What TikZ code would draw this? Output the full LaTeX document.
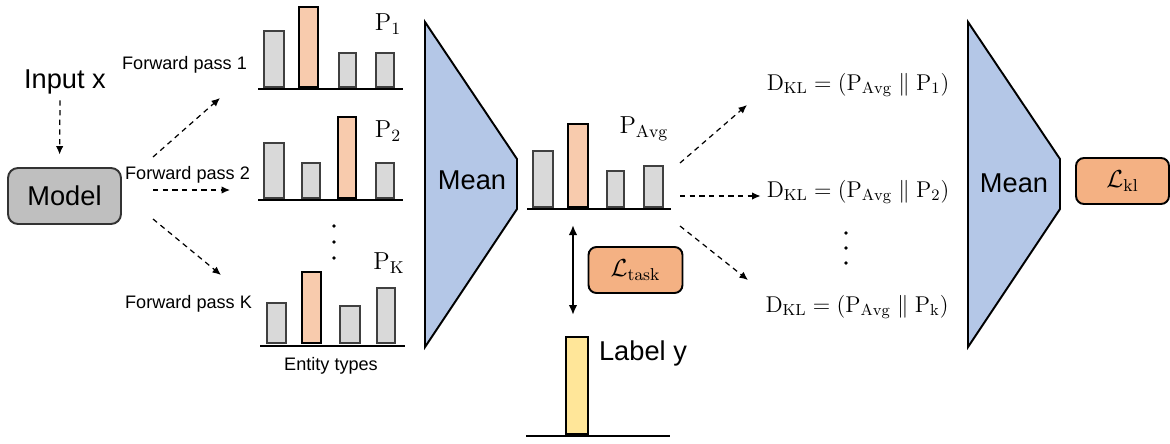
\RequirePackage{fix-cm}
\documentclass[tikz,border=0pt]{standalone}
\usepackage[no-math]{fontspec}
\setmainfont{Liberation Sans}
\usetikzlibrary{positioning,arrows.meta}

\definecolor{barGray}{HTML}{D9D9D9}
\definecolor{barOrange}{HTML}{F8CBAD}
\definecolor{lossOrange}{HTML}{F4B183}
\definecolor{meanBlue}{HTML}{B4C7E7}
\definecolor{modelGray}{HTML}{BFBFBF}
\definecolor{labelYellow}{HTML}{FFE699}

\tikzset{
  gbar/.style={draw=black!75,line width=0.8pt,fill=barGray},
  obar/.style={draw=black,line width=1.3pt,fill=barOrange},
  axisline/.style={line width=1.1pt},
  dasharrow/.style={-{Latex[length=1.7mm,width=1.5mm]},dash pattern=on 3pt off 2.5pt,line width=0.7pt},
  meanshape/.style={draw=black,line width=1.1pt,fill=meanBlue},
  bigtext/.style={font=\fontsize{15.5}{18}\selectfont},
  smalltext/.style={font=\fontsize{10.3}{12}\selectfont},
  plabel/.style={font=\fontsize{14}{16}\selectfont},
  klabel/.style={font=\fontsize{13}{15}\selectfont},
  lossbox/.style={draw=black,line width=1.1pt,rounded corners=0.16cm,fill=lossOrange,
    minimum width=1.88cm,minimum height=0.92cm,font=\fontsize{14}{16}\selectfont},
}

\begin{document}
\begin{tikzpicture}[x=0.02cm,y=-0.02cm]
  \useasboundingbox (0,0) rectangle (1170,443);

  % input and model
  \node[bigtext] (input) at (65,82) {Input x};
  \node[draw=black!80,line width=1.1pt,fill=modelGray,rounded corners=0.2cm,
    minimum width=2.26cm,minimum height=1.12cm,bigtext] (model) at (64.5,196) {Model};
  \draw[dasharrow,shorten >=0.25cm] ([xshift=-0.1cm]input.south) -- ([xshift=-0.1cm]model.north);

  % forward passes
  \coordinate (fp1s) at (153,157);  \coordinate (fp1e) at (220,98);
  \coordinate (fp2s) at (153,190);  \coordinate (fp2e) at (230,190);
  \coordinate (fpks) at (153,219);  \coordinate (fpke) at (221,275);
  \draw[dasharrow] (fp1s) -- (fp1e);
  \draw[dasharrow] (fp2s) -- (fp2e);
  \draw[dasharrow] (fpks) -- (fpke);
  \node[smalltext] (fp1) at (184.5,65) {Forward pass 1};
  \node[smalltext] (fp2) at (187.5,175) {Forward pass 2};
  \node[smalltext] (fpk) at (188.5,304) {Forward pass K};

  % distribution P_1
  \foreach \xa/\xb/\ya in {264/284/31, 339/356/53, 376/394/53}
    \draw[gbar] (\xa,87) rectangle (\xb,\ya);
  \draw[obar] (299,87) rectangle (318,7);
  \draw[axisline] (258,89) -- (403,89);
  \node[plabel] (p1) at (388,24) {$\mathrm{P}_1$};

  % distribution P_2
  \foreach \xa/\xb/\ya in {264/284/143, 302/320/163, 376/394/163}
    \draw[gbar] (\xa,198) rectangle (\xb,\ya);
  \draw[obar] (338,198) rectangle (356,117);
  \draw[axisline] (258,200) -- (403,200);
  \node[plabel] (p2) at (388,131) {$\mathrm{P}_2$};

  \foreach \yd in {226,242,258}
    \fill (334,\yd) circle (1.1pt);

  % distribution P_K
  \foreach \xa/\xb/\ya in {267/286/303, 340/360/306, 377/395/288}
    \draw[gbar] (\xa,343) rectangle (\xb,\ya);
  \draw[obar] (302,343) rectangle (321,272);
  \draw[axisline] (260,346) -- (405,346);
  \node[plabel] (pk) at (389,263) {$\mathrm{P}_{\mathrm{K}}$};
  \node[smalltext] (entity) at (331,366) {Entity types};

  % first mean
  \draw[meanshape] (425,22) -- (517,159) -- (517,209) -- (425,347) -- cycle;
  \node[bigtext] (mean1) at (472,180) {Mean};

  % averaged distribution
  \foreach \xa/\xb/\ya in {533/553/151, 607/624/171, 644/663/166}
    \draw[gbar] (\xa,207) rectangle (\xb,\ya);
  \draw[obar] (568,207) rectangle (588,124);
  \draw[axisline] (527,209) -- (671,209);
  \node[plabel] (pavg) at (644,129) {$\mathrm{P}_{\mathrm{Avg}}$};

  % task loss
  \coordinate (tasktop) at (573,225);
  \coordinate (taskbot) at (573,315);
  \draw[{Latex[length=2mm,width=1.7mm]}-{Latex[length=2mm,width=1.7mm]},line width=1.1pt] (tasktop) -- (taskbot);
  \node[lossbox] (ltask) at (635.5,270) {$\mathcal{L}_{\mathrm{task}}$};

  % label
  \draw[draw=black,line width=1.1pt,fill=labelYellow] (566,434) rectangle (588,337);
  \draw[axisline] (526,436) -- (670,436);
  \node[bigtext] (labely) at (643,353) {Label y};

  % KL terms
  \node[klabel] (dkl1) at (858,85) {$\mathrm{D}_{\mathrm{KL}} = (\mathrm{P}_{\mathrm{Avg}} \parallel \mathrm{P}_1)$};
  \node[klabel] (dkl2) at (858,192) {$\mathrm{D}_{\mathrm{KL}} = (\mathrm{P}_{\mathrm{Avg}} \parallel \mathrm{P}_2)$};
  \node[klabel] (dklk) at (857,307) {$\mathrm{D}_{\mathrm{KL}} = (\mathrm{P}_{\mathrm{Avg}} \parallel \mathrm{P}_{\mathrm{k}})$};
  \coordinate (kl1s) at (680,163);  \coordinate (kl1e) at (747,105);
  \coordinate (kl2s) at (680,196);
  \coordinate (klks) at (680,226);  \coordinate (klke) at (748,280);
  \draw[dasharrow] (kl1s) -- (kl1e);
  \draw[dasharrow] (kl2s) -- (kl2s -| dkl2.west);
  \draw[dasharrow] (klks) -- (klke);
  \foreach \yd in {233,248,263}
    \fill (846,\yd) circle (1.1pt);

  % second mean and kl loss
  \draw[meanshape] (968,22) -- (1060,159) -- (1060,209) -- (968,347) -- cycle;
  \node[bigtext] (mean2) at (1014,183) {Mean};
  \node[lossbox,minimum width=1.86cm] (lkl) at (1122.5,181) {$\mathcal{L}_{\mathrm{kl}}$};
\end{tikzpicture}
\end{document}
